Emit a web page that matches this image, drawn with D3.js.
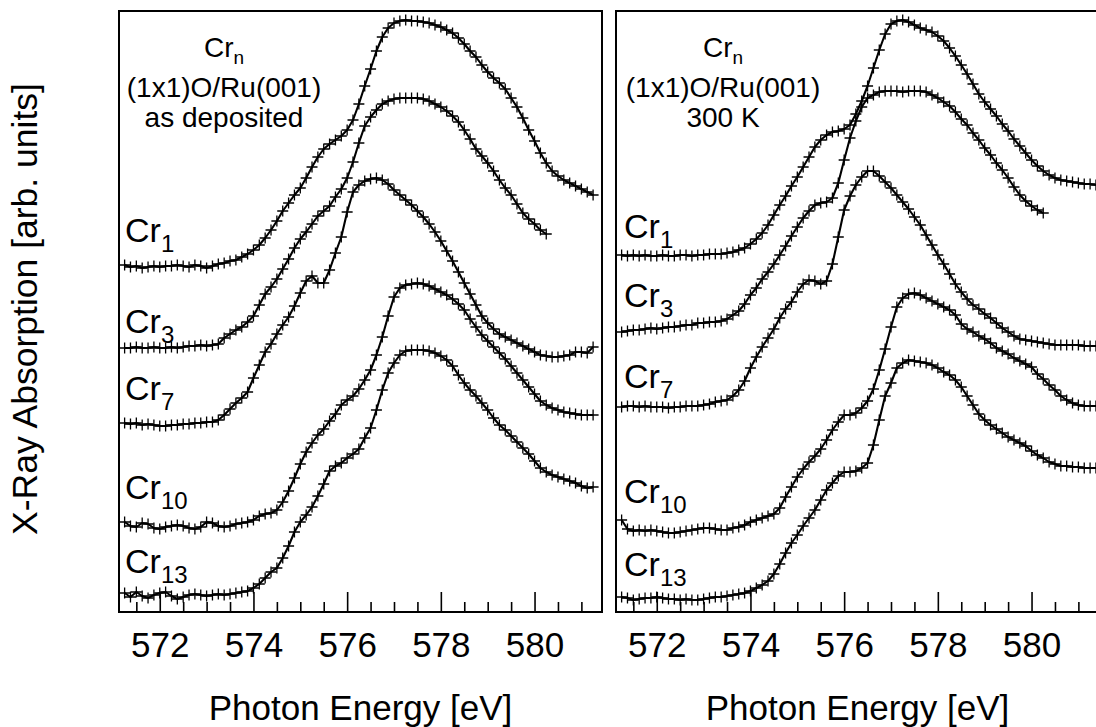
<!DOCTYPE html>
<html>
<head>
<meta charset="utf-8">
<script src="https://cdn.jsdelivr.net/npm/d3@7"></script>
<style>
  body { margin: 0; background: #fff; }
  text { font-family: "Liberation Sans", Arial, Helvetica, sans-serif; fill: #000; }
</style>
</head>
<body>
<svg id="chart" width="1096" height="727"></svg>
<script>
// Photon energy grid (eV), shared by all spectra
const energies = [
  571.25, 571.375, 571.5, 571.625, 571.75, 571.875,
  572, 572.125, 572.25, 572.375, 572.5, 572.625, 572.75, 572.875,
  573, 573.125, 573.25, 573.375, 573.5, 573.625, 573.75, 573.875,
  574, 574.125, 574.25, 574.375, 574.5, 574.625, 574.75, 574.875,
  575, 575.125, 575.25, 575.375, 575.5, 575.625, 575.75, 575.875,
  576, 576.125, 576.25, 576.375, 576.5, 576.625, 576.75, 576.875,
  577, 577.125, 577.25, 577.375, 577.5, 577.625, 577.75, 577.875,
  578, 578.125, 578.25, 578.375, 578.5, 578.625, 578.75, 578.875,
  579, 579.125, 579.25, 579.375, 579.5, 579.625, 579.75, 579.875,
  580, 580.125, 580.25, 580.375, 580.5, 580.625, 580.75, 580.875,
  581, 581.125, 581.25, 581.375
];

const clusterSizes = ["1", "3", "7", "10", "13"];
const majorTicks = [572, 574, 576, 578, 580];
const minorTicks = [571.5, 572.5, 573, 573.5, 574.5, 575, 575.5, 576.5, 577, 577.5, 578.5, 579, 579.5, 580.5, 581];

// Absorption (arb. units, vertically offset) — Cr_n as deposited
const depCr1 = [347,345,346,344,345,346,345,346,346,347, 346,345,347,346,344,346,348,349,351,352,
  355,358,362,367,374,382,391,401,409,417, 424,434,445,455,463,468,472,476,482,492,
  508,526,543,561,575,584,589,591,592,591, 591,590,589,587,585,582,579,574,568,561,
  555,547,540,534,529,523,514,505,494,482, 471,459,449,441,436,432,429,426,423,420, 417];
const depCr3 = [264,264,265,264,264,265,264,264,265,264, 265,266,266,267,266,267,268,274,278,282,
  285,290,296,307,318,325,333,343,353,364, 373,380,388,396,401,406,415,423,434,450,
  469,486,495,502,508,511,513,514,514,514, 514,513,511,508,505,501,496,490,482,473,
  463,456,449,441,432,424,417,408,399,393, 388,382,378];
const depCr7 = [189,188,189,187,188,187,186,186,187,187, 188,188,189,189,190,190,192,197,203,209,
  214,220,234,247,260,268,278,287,295,306, 319,331,336,329,329,342,359,375,400,420,
  427,431,433,434,432,428,422,417,412,407, 401,395,388,380,371,361,351,340,329,318,
  307,296,289,283,278,275,272,269,266,263, 260,257,256,255,255,256,257,260,260,259, 265];
const depCr10 = [90,86,85,89,88,84,83,85,86,87, 86,84,83,85,90,89,86,85,86,88,
  89,90,92,96,98,99,102,110,121,134, 148,160,169,177,183,191,198,207,212,216,
  223,232,242,257,275,296,315,324,327,328, 329,328,326,323,320,317,313,308,302,293,
  285,277,271,265,259,253,246,239,232,225, 218,211,207,204,202,200,199,198,197,197, 197];
const depCr13 = [19,15,20,16,14,17,19,20,16,13, 15,17,18,17,16,17,18,17,18,19,
  20,21,24,28,34,40,44,54,66,80, 90,97,105,116,128,141,146,149,154,158,
  163,174,184,202,222,239,249,257,261,262, 262,262,261,259,256,252,246,237,229,222,
  216,209,202,194,187,182,176,170,164,158, 151,144,140,137,135,133,131,129,126,124, 125];

// Absorption (arb. units, vertically offset) — Cr_n after 300 K
const rtCr1 = [357,356,357,356,357,356,356,357,356,356, 357,357,356,357,357,358,358,358,359,360,
  362,364,368,373,379,387,397,407,416,426, 435,445,455,465,472,477,480,481,483,487,
  498,511,526,544,562,578,588,591,592,590, 587,584,582,580,576,571,564,556,547,538,
  528,518,510,503,496,488,481,473,466,459, 452,446,441,437,434,432,431,430,429,428, 428,427];
const rtCr3 = [280,281,282,282,283,284,283,284,285,285, 286,287,287,289,289,290,290,291,293,297,
  301,308,317,324,333,340,348,357,366,376, 385,394,401,407,409,410,414,429,452,474,
  491,505,514,517,520,521,521,521,520,521, 521,521,520,517,514,510,506,500,493,487,
  479,472,464,457,449,442,434,425,417,411, 406,402,399];
const rtCr7 = [205,206,206,205,206,205,205,205,204,205, 205,206,206,206,207,208,210,211,212,216,
  222,231,244,255,265,274,283,294,303,310, 320,328,332,331,328,331,348,375,402,416,
  427,435,441,441,436,430,424,417,410,403, 395,387,377,367,357,348,338,328,320,313,
  307,303,298,294,289,284,280,276,273,272, 271,270,269,268,267,267,267,267,267,266, 266,266];
const rtCr10 = [92,83,81,82,81,82,81,80,79,79, 80,81,82,83,84,84,83,82,82,84,
  85,87,90,92,94,96,98,104,115,125, 135,143,150,156,163,172,182,190,197,197,
  199,204,211,223,242,263,285,305,314,318, 319,317,314,311,308,305,302,297,288,283,
  280,276,273,269,264,261,258,254,251,248, 245,238,233,227,222,216,212,209,207,206, 206,206];
const rtCr13 = [15,14,12,13,14,14,15,14,13,13, 12,13,12,12,13,14,15,15,16,17,
  18,19,21,24,27,31,38,48,59,69, 77,86,94,102,112,122,129,136,140,140,
  141,144,149,167,192,216,229,244,249,252, 251,250,249,247,244,240,237,232,225,216,
  207,198,192,187,183,179,175,172,169,166, 161,157,154,150,148,146,146,145,145,144, 144,144];

const depositedSpectra = [depCr1, depCr3, depCr7, depCr10, depCr13];
const annealedSpectra = [rtCr1, rtCr3, rtCr7, rtCr10, rtCr13];

// ---- layout ----
const svg = d3.select("#chart");
const frameTop = 11, frameBottom = 612;
const y = d3.scaleLinear().domain([0, 601]).range([frameBottom, frameTop]);

const panels = [
  { x0: 119, x1: 602, spectra: depositedSpectra, condition: "as deposited",
    titleX: 224, labelX: 125, labelY: [242, 333, 400, 499, 573] },
  { x0: 616, x1: 1099, spectra: annealedSpectra, condition: "300 K",
    titleX: 723, labelX: 624, labelY: [238, 307, 388, 503, 576] }
];

const plusMark = "M-5.5,0H5.5M0,-5.5V5.5";

panels.forEach(p => {
  const x = d3.scaleLinear().domain([571.13, 581.44]).range([p.x0, p.x1]);
  const g = svg.append("g");

  // minor and major ticks, pointing inward from the bottom edge
  const minorAxis = g.append("g").attr("transform", `translate(0,${frameBottom})`)
    .call(d3.axisTop(x).tickValues(minorTicks).tickSize(10).tickFormat(""));
  const majorAxis = g.append("g").attr("transform", `translate(0,${frameBottom})`)
    .call(d3.axisTop(x).tickValues(majorTicks).tickSize(20).tickFormat(""));
  [minorAxis, majorAxis].forEach(a => {
    a.select(".domain").remove();
    a.selectAll(".tick line").attr("stroke", "#000").attr("stroke-width", 1.6);
  });

  // tick labels
  const labelAxis = g.append("g").attr("transform", `translate(0,${frameBottom})`)
    .call(d3.axisBottom(x).tickValues(majorTicks).tickSize(0).tickPadding(20).tickFormat(d3.format("d")));
  labelAxis.select(".domain").remove();
  labelAxis.selectAll("text")
    .style("font-family", '"Liberation Sans", Arial, sans-serif')
    .attr("font-size", 35).attr("fill", "#000");

  // x-axis title
  g.append("text")
    .attr("x", (p.x0 + p.x1) / 2).attr("y", 720)
    .attr("text-anchor", "middle").attr("font-size", 35)
    .text("Photon Energy [eV]");

  // spectra: line plus "+" markers
  const line = d3.line().x((d, i) => x(energies[i])).y(d => y(d));
  p.spectra.forEach(vals => {
    g.append("path").datum(vals)
      .attr("d", line)
      .attr("fill", "none").attr("stroke", "#000").attr("stroke-width", 2.1)
      .attr("stroke-linejoin", "round");
    g.append("g").selectAll("path").data(vals).join("path")
      .attr("transform", (d, i) => `translate(${x(energies[i])},${y(d)})`)
      .attr("d", plusMark)
      .attr("stroke", "#000").attr("stroke-width", 1.3).attr("fill", "none");
  });

  // Cr_n labels
  clusterSizes.forEach((n, k) => {
    const t = g.append("text").attr("x", p.labelX).attr("y", p.labelY[k]).attr("font-size", 34);
    t.append("tspan").text("Cr");
    t.append("tspan").attr("font-size", 24).attr("dy", 10).text(n);
  });

  // sample description
  const t1 = g.append("text").attr("x", p.titleX).attr("y", 57)
    .attr("text-anchor", "middle").attr("font-size", 28);
  t1.append("tspan").text("Cr");
  t1.append("tspan").attr("font-size", 19).attr("dy", 7).text("n");
  g.append("text").attr("x", p.titleX).attr("y", 97)
    .attr("text-anchor", "middle").attr("font-size", 28).text("(1x1)O/Ru(001)");
  g.append("text").attr("x", p.titleX).attr("y", 127)
    .attr("text-anchor", "middle").attr("font-size", 28).text(p.condition);

  // frame
  g.append("rect")
    .attr("x", p.x0).attr("y", frameTop)
    .attr("width", p.x1 - p.x0).attr("height", frameBottom - frameTop)
    .attr("fill", "none").attr("stroke", "#000").attr("stroke-width", 2);
});

// y-axis title
svg.append("text")
  .attr("transform", "translate(37,309) rotate(-90)")
  .attr("text-anchor", "middle").attr("font-size", 35.5)
  .text("X-Ray Absorption [arb. units]");
</script>
</body>
</html>
